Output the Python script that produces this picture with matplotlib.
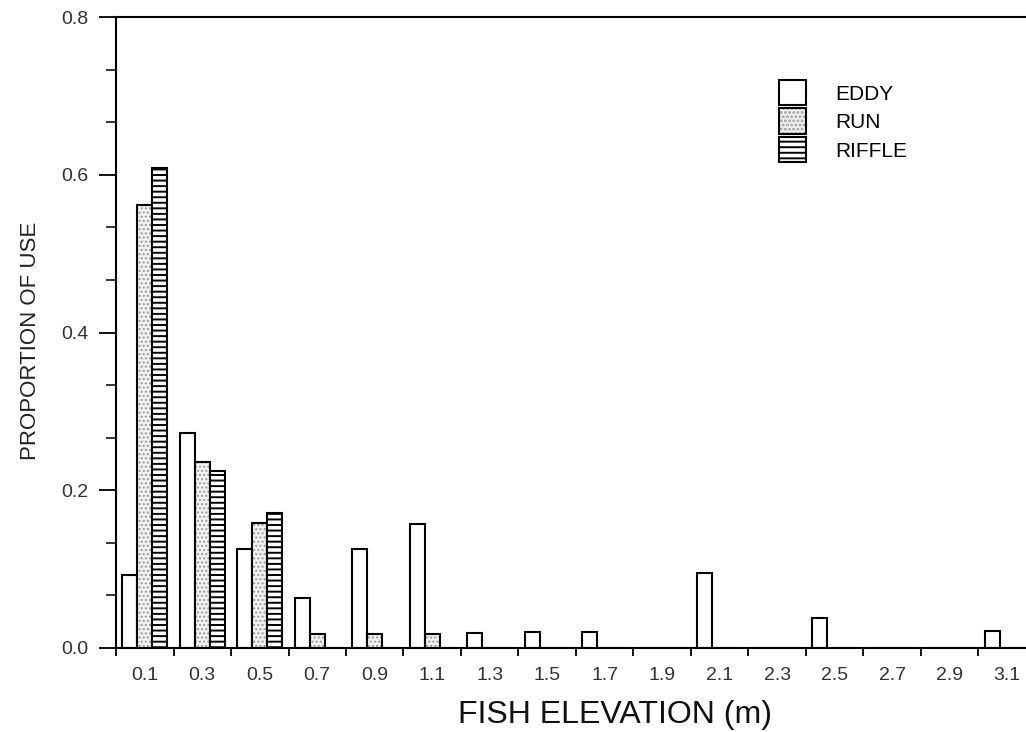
import matplotlib.pyplot as plt
from matplotlib.patches import Patch
import numpy as np

# Data
elevation = ['0.1', '0.3', '0.5', '0.7', '0.9', '1.1', '1.3', '1.5',
             '1.7', '1.9', '2.1', '2.3', '2.5', '2.7', '2.9', '3.1']
eddy = [0.092, 0.273, 0.126, 0.063, 0.126, 0.157, 0.019, 0.020,
        0.020, 0.0, 0.095, 0.0, 0.038, 0.0, 0.0, 0.022]
run = [0.562, 0.236, 0.158, 0.018, 0.018, 0.018, 0.0, 0.0,
       0.0, 0.0, 0.0, 0.0, 0.0, 0.0, 0.0, 0.0]
riffle = [0.609, 0.224, 0.171, 0.0, 0.0, 0.0, 0.0, 0.0,
          0.0, 0.0, 0.0, 0.0, 0.0, 0.0, 0.0, 0.0]

plt.rcParams['font.family'] = ['Liberation Sans', 'DejaVu Sans']

fig = plt.figure(figsize=(10.26, 7.32), dpi=100, facecolor='w')
ax = fig.add_axes([116 / 1026, 1 - 648 / 732, 920 / 1026, 631 / 732])

x = np.arange(len(elevation))
w = 0.26
ax.bar(x - w, eddy, w, facecolor='w', edgecolor='k', linewidth=1.5)
# stipple drawn in grey first, then the black outline on top
plt.rcParams['hatch.linewidth'] = 1.0
ax.bar(x, run, w, facecolor='#f2f2f2', edgecolor='#9a9a9a', linewidth=0,
       hatch='....')
plt.rcParams['hatch.linewidth'] = 1.4
ax.bar(x, run, w, facecolor='none', edgecolor='k', linewidth=1.5)
ax.bar(x + w, riffle, w, facecolor='w', edgecolor='k', linewidth=1.5,
       hatch='---')

ax.set_xlim(-0.5, len(elevation) - 0.5)
ax.set_ylim(0, 0.8)

# x: ticks between groups, labels at group centres
ax.set_xticks(x)
ax.set_xticklabels(elevation, fontsize=14, color='#333333')
ax.set_xticks(np.arange(-0.5, len(elevation)), minor=True)
ax.tick_params(axis='x', which='major', length=0, pad=14)
ax.tick_params(axis='x', which='minor', direction='out', length=6,
               width=1.3)

ax.set_yticks(np.arange(0, 0.81, 0.2))
ax.set_yticklabels(['0.0', '0.2', '0.4', '0.6', '0.8'], fontsize=14,
                   color='#333333')
ax.set_yticks(np.arange(0, 0.8, 0.2 / 3), minor=True)
ax.tick_params(axis='y', which='major', direction='out', length=12,
               width=1.3, pad=8)
ax.tick_params(axis='y', which='minor', direction='out', length=7,
               width=1.1)

for side in ['left', 'bottom', 'top']:
    ax.spines[side].set_linewidth(1.5)
ax.spines['right'].set_visible(False)

ax.set_ylabel('PROPORTION OF USE', fontsize=16, color='#222222')
ax.yaxis.set_label_coords(-0.081, 0.487)
ax.set_xlabel('FISH ELEVATION (m)', fontsize=23, color='#111111')
ax.xaxis.set_label_coords(0.542, -0.082)

# legend proxies matching the bar styles
run_handle = (Patch(facecolor='#f2f2f2', edgecolor='#9a9a9a', linewidth=0,
                    hatch='....'),
              Patch(facecolor='none', edgecolor='k', linewidth=1.5))
handles = [Patch(facecolor='w', edgecolor='k', linewidth=1.5),
           run_handle,
           Patch(facecolor='w', edgecolor='k', linewidth=1.5, hatch='---')]
ax.legend(handles, ['EDDY', 'RUN', 'RIFFLE'], loc='upper left',
          bbox_to_anchor=(0.7, 0.93), frameon=False, fontsize=15,
          handlelength=1.3, handleheight=1.5, handletextpad=1.4,
          labelspacing=0.15)

plt.savefig('out.png', dpi=100)
